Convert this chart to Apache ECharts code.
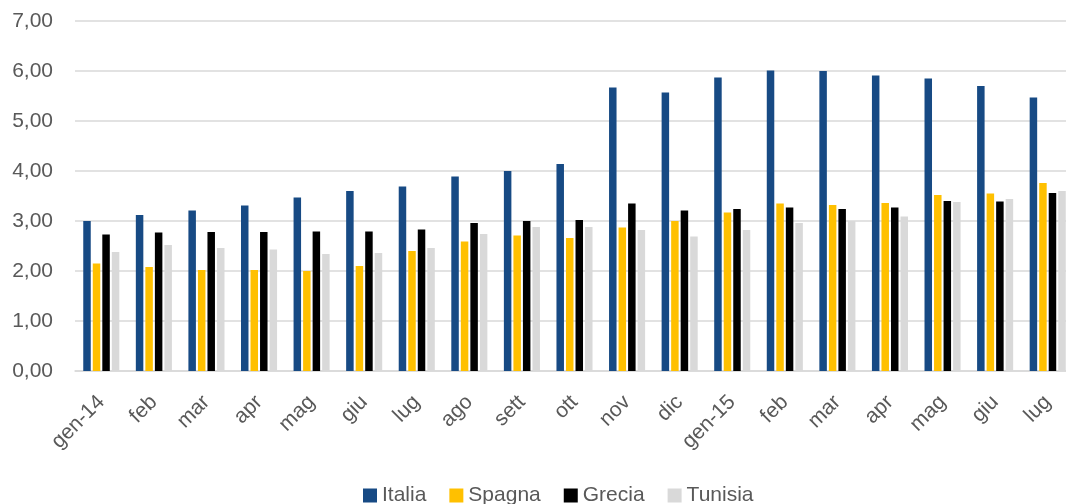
<!DOCTYPE html>
<html>
<head>
<meta charset="utf-8">
<script src="https://cdn.jsdelivr.net/npm/echarts@6/dist/echarts.min.js"></script>
<style>
  html, body { margin: 0; padding: 0; background: #fff; }
  #main { width: 1066px; height: 504px; }
</style>
</head>
<body>
<div id="main"></div>
<script>
var mesi = ['gen-14', 'feb', 'mar', 'apr', 'mag', 'giu', 'lug', 'ago', 'sett', 'ott', 'nov', 'dic',
            'gen-15', 'feb', 'mar', 'apr', 'mag', 'giu', 'lug'];
var italia  = [3.00, 3.12, 3.21, 3.31, 3.47, 3.60, 3.69, 3.89, 4.00, 4.14, 5.67, 5.57, 5.87, 6.01, 6.00, 5.91, 5.85, 5.70, 5.47];
var spagna  = [2.15, 2.08, 2.02, 2.02, 2.00, 2.10, 2.40, 2.59, 2.71, 2.66, 2.87, 3.00, 3.17, 3.35, 3.32, 3.36, 3.52, 3.55, 3.76];
var grecia  = [2.73, 2.77, 2.78, 2.78, 2.79, 2.79, 2.83, 2.96, 3.00, 3.02, 3.35, 3.21, 3.24, 3.27, 3.24, 3.27, 3.40, 3.39, 3.56];
var tunisia = [2.38, 2.52, 2.46, 2.43, 2.34, 2.36, 2.46, 2.74, 2.88, 2.88, 2.82, 2.69, 2.82, 2.96, 3.00, 3.09, 3.38, 3.44, 3.60];

var chartDom = document.getElementById('main');
var myChart = echarts.init(chartDom);
var font = 'Liberation Sans';

function serie(nome, dati, colore) {
    return {
        name: nome,
        type: 'bar',
        data: dati,
        barWidth: 7.5,
        barGap: '27%',
        itemStyle: { color: colore },
        animation: false
    };
}

var option = {
    animation: false,
    grid: {
        left: 75,
        right: -8,
        top: 21,
        bottom: 133,
        outerBoundsMode: 'none'
    },
    legend: {
        bottom: -7,
        left: 358,
        itemWidth: 14,
        itemHeight: 14,
        itemGap: 23,
        icon: 'rect',
        textStyle: { fontFamily: font, fontSize: 21, color: '#595959' },
        data: ['Italia', 'Spagna', 'Grecia', 'Tunisia']
    },
    xAxis: {
        type: 'category',
        data: mesi,
        axisTick: { show: false },
        axisLine: { lineStyle: { color: '#D9D9D9', width: 1.5 } },
        axisLabel: {
            rotate: 45,
            margin: 28,
            interval: 0,
            fontFamily: font,
            fontSize: 21,
            color: '#595959'
        }
    },
    yAxis: {
        type: 'value',
        min: 0,
        max: 7,
        interval: 1,
        axisLine: { show: false },
        axisTick: { show: false },
        splitLine: { lineStyle: { color: '#D9D9D9', width: 1.5 } },
        axisLabel: {
            margin: 22,
            fontFamily: font,
            fontSize: 21,
            color: '#595959',
            formatter: function (v) { return v.toFixed(2).replace('.', ','); }
        }
    },
    series: [
        serie('Italia', italia, '#174A84'),
        serie('Spagna', spagna, '#FFC000'),
        serie('Grecia', grecia, '#000000'),
        serie('Tunisia', tunisia, '#D9D9D9')
    ]
};

option && myChart.setOption(option);
</script>
</body>
</html>
